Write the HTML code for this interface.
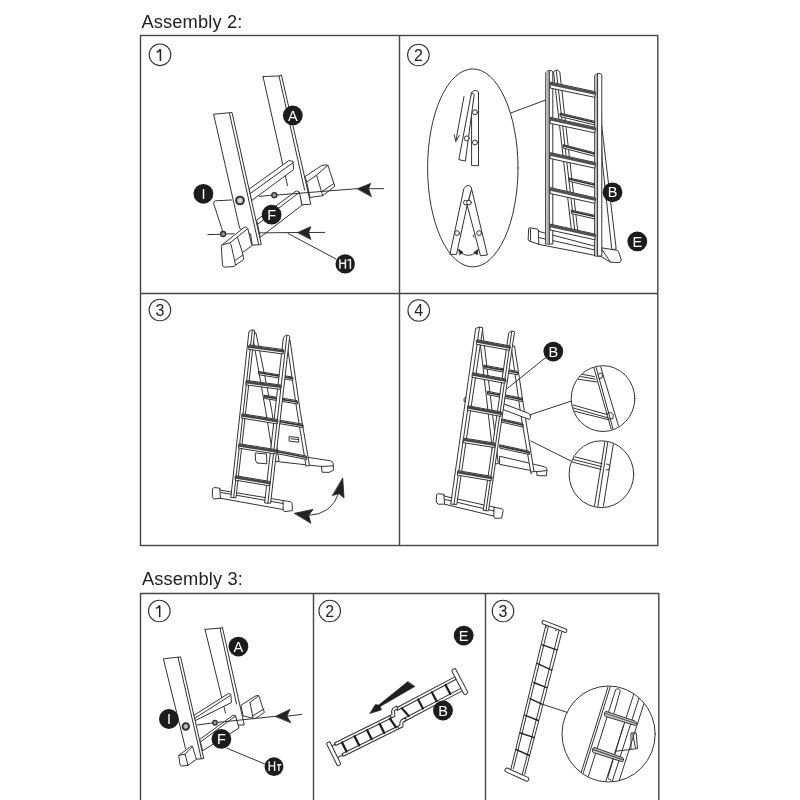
<!DOCTYPE html>
<html><head><meta charset="utf-8"><style>
html,body{margin:0;padding:0;background:#fff;width:800px;height:800px;overflow:hidden}
svg{position:absolute;left:0;top:0;filter:grayscale(1)}
text{font-family:"Liberation Sans",sans-serif}
.fr{fill:none;stroke:#444;stroke-width:1.4}
.num{fill:none;stroke:#333;stroke-width:1.1}
.nt{font-size:16px;fill:#222;text-anchor:middle}
.bd{fill:#1c1c1c}
.bt{font-size:14.5px;fill:#fff;text-anchor:middle}
.ln{fill:none;stroke:#333;stroke-width:1;stroke-linejoin:round;stroke-linecap:round}
.lt{fill:#fff;stroke:#333;stroke-width:1;stroke-linejoin:round}
.rgf{fill:none;stroke:#333;stroke-width:4.2}
.rgb{fill:none;stroke:#333;stroke-width:3.2}
.rg{fill:none;stroke:#222;stroke-width:2.2;stroke-linecap:round}
</style></head><body>
<svg width="800" height="800" viewBox="0 0 800 800">
<!-- titles -->
<text x="141.5" y="28.4" style="font-size:18.3px;letter-spacing:0.12px;fill:#222">Assembly 2:</text>
<text x="142" y="585.4" style="font-size:18.3px;letter-spacing:0.12px;fill:#222">Assembly 3:</text>
<!-- frames -->
<rect class="fr" x="140.5" y="35.5" width="517.3" height="510"/>
<line class="fr" x1="399.5" y1="35.5" x2="399.5" y2="545.5"/>
<line class="fr" x1="140.5" y1="293.5" x2="657.8" y2="293.5"/>
<path class="fr" d="M140.5,801 V593.5 H658.8 V801"/>
<line class="fr" x1="313.5" y1="593.5" x2="313.5" y2="801"/>
<line class="fr" x1="485.5" y1="593.5" x2="485.5" y2="801"/>
<!-- step numbers -->
<g>
<circle class="num" cx="160" cy="54.8" r="10.8"/><path d="M160.4,61.099999999999994 V49.199999999999996 M160.4,49.199999999999996 Q159.2,51.4 156.7,52.199999999999996" style="fill:none;stroke:#222;stroke-width:1.5"/>
<circle class="num" cx="418.4" cy="55" r="10.8"/><text class="nt" x="418.4" y="60.8">2</text>
<circle class="num" cx="159.9" cy="310" r="10.8"/><text class="nt" x="159.9" y="315.8">3</text>
<circle class="num" cx="418.75" cy="310.5" r="10.8"/><text class="nt" x="418.75" y="316.3">4</text>
<circle class="num" cx="159.3" cy="611" r="10.8"/><path d="M159.70000000000002,617.3 V605.4 M159.70000000000002,605.4 Q158.5,607.6 156.0,608.4" style="fill:none;stroke:#222;stroke-width:1.5"/>
<circle class="num" cx="329.7" cy="611" r="10.8"/><text class="nt" x="329.7" y="616.8">2</text>
<circle class="num" cx="503" cy="611" r="10.8"/><text class="nt" x="503" y="616.8">3</text>
</g>
<!-- DRAWINGS -->
<g id="d1" class="ln">
<!-- right rail -->
<path d="M263,76.5 L279,76 L281.5,75.3 M263,76.5 L287.5,185.5 M279,76 L301.5,176 M281.5,75.3 L310.8,204.2 L302,204.8 L298.8,192.5 M301.5,176 L304.6,190"/>
<!-- upper rung -->
<path class="lt" d="M249.6,188.8 L288.8,160.6 L293,161.3 L293.6,169.6 L251.7,200.5 Z"/>
<path d="M251,193 L293,162.7"/>
<!-- right foot -->
<path class="lt" d="M305.4,176.3 L321.5,165.6 Q323.5,164.6 327.9,165.2 L334.8,186.3 L322.7,195.7 L310,197.5 L306.7,182 Z"/>
<path d="M306.7,182 L316.6,175.2 L327.9,165.2 M316.6,175.2 L322.7,195.7 M322.7,191 L333.7,183.6"/>
<!-- lower rung F -->
<path class="lt" d="M257,219.8 L296.4,190.9 L299.5,192.3 L301.9,205.3 L260.6,237 Z"/>
<path d="M258,224 L299.5,192.3"/>
<!-- upper arrow line -->
<path d="M259.3,196.4 L271.3,195.2 M276.9,195 L357,188.7 M368,188.7 L383.7,188.7"/>
<path d="M357.5,188.7 L370.6,183.5 L368.5,188.7 L371.2,196.3 Z" style="fill:#222;stroke:#222;stroke-width:0.8"/>
<!-- left rail -->
<path class="lt" d="M214,114.2 L232,112.5 L261.3,244.5 L252.3,245.2 L250.6,234 L240,228.5 Z"/>
<path d="M229.5,113.5 L258.5,244"/>
<!-- left foot -->
<path class="lt" d="M221.3,245.5 L244.4,227.2 Q246.5,226.3 247.8,228.6 L251.9,245.75 L242.5,252.6 L243.75,259.5 L235.6,265.1 Q234.8,266.6 232,266.7 L224.5,267.1 Q222.6,267 222.5,265 L221.3,247 Z"/>
<path d="M222.5,244.8 L229.3,243 Q231.2,243.2 231.9,248.3 L235.6,265.1 M229.8,243.1 L247.8,228.6 M237.5,237.3 L242.5,252.6 M235.6,260.1 L242.8,255.1"/>
<!-- lower arrow line -->
<path d="M207.9,234.6 L220.3,234.3 M225.9,234 L234,233.8 M259.6,232.9 L297.5,232.5 M309,232.5 L324.8,232.4"/>
<path d="M297.8,232.5 L310.8,226.7 L308.6,232.5 L310.8,239.2 Z" style="fill:#222;stroke:#222;stroke-width:0.8"/>
<!-- leader lines -->
<path d="M231.5,200 L215.5,200.8 Q213.2,201.2 213.8,204 L221.4,227.2 L222.6,231.2"/>
<path d="M288.1,233.5 L336,259"/>
<!-- bolts -->
<circle cx="240" cy="200.5" r="3.9" style="fill:#bbb;stroke:#2a2a2a;stroke-width:1.9"/>
<circle cx="240" cy="200.5" r="1.3" style="fill:#eee;stroke:none"/>
<circle cx="223.1" cy="234" r="2.5" style="fill:#999;stroke:#2a2a2a;stroke-width:1.3"/>
<circle cx="274.3" cy="195.2" r="2.5" style="fill:#999;stroke:#2a2a2a;stroke-width:1.3"/>
</g>
<g id="d2" class="ln">
<ellipse cx="472.8" cy="167.9" rx="45.2" ry="99" />
<path d="M510.8,113 L547.5,99.3"/>
<!-- ellipse top detail -->
<path class="lt" d="M471.6,165.2 L471.6,92.5 Q475,88.8 478.5,92 L478.5,165.2 Z"/>
<path class="lt" d="M471.8,93 L474.2,94.5 L465.4,161.1 L459.2,159.7 Z"/>
<circle cx="475" cy="112.3" r="2.5" class="lt"/>
<circle cx="466.8" cy="138.4" r="2.5" class="lt"/>
<circle cx="475" cy="142.5" r="2.5" class="lt"/>
<path d="M464,96.5 L455.8,141.2 M454.2,134.8 L455.8,141.2 L459.3,135.5"/>
<!-- ellipse bottom detail -->
<path class="lt" d="M467.5,206.3 L480.5,255.8 L487.4,255 L471.6,189 Z"/>
<path class="lt" d="M464,188.4 Q466,184.6 469.5,185.6 Q471.6,186.5 471.6,189 L467.5,203.5 L456.5,254.4 L450.3,254.4 Z"/>
<circle cx="465.8" cy="202.6" r="2.3" class="lt"/><circle cx="469" cy="202.6" r="2.3" class="lt"/>
<circle cx="457.1" cy="233.1" r="2.4" class="lt"/>
<circle cx="479.1" cy="233.1" r="2.4" class="lt"/>
<path d="M474,234.6 Q472,235.8 474,237.2"/>
<path d="M460.5,252.5 Q468.5,258.5 476.5,252.5"/>
<path d="M458.8,249.3 L463,252.3 L459.8,254.6 Z M478.2,249.6 L477.3,254.8 L474,252.6 Z" style="fill:#222;stroke:#222;stroke-width:0.6"/>
<!-- stabilizer foot -->
<path class="lt" d="M528.75,228.3 Q529,227.6 530,227.8 L537.6,229.1 Q538.2,229.4 538.3,230.2 L538.4,231.3 L600,247.6 L617.2,250.3 Q618.2,250.6 618.4,251.4 L621.3,260 L619.6,262.5 L610.5,262.2 L601,256.5 L540,244.6 L529,241 L528.4,240 Z"/>
<path d="M538.3,230.2 L538.8,244.6 M600.8,247.7 L610.5,262.2 M539,237.6 L602,251.5 M530.5,229 L530.6,240.5"/>
<!-- back ladder rails -->
<path class="lt" d="M553.8,71.5 Q556,69.5 558,70.2 L559.8,72 L577.7,230.5 L572,232 Z"/>
<path d="M556.3,71 L574.8,231.2"/>
<path class="lt" d="M600.8,118 L616.2,249 L611.8,249.6 L602.3,162 Z"/>
<!-- back rungs -->
<path class="lt" d="M560.5,113.25 L595.5,121.5 L595.5,125.1 L560.5,116.65 Z"/><path d="M560.5,114.45 L595.5,122.7" style="stroke-width:1.6"/><path class="lt" d="M563.5,144.75 L595.5,153 L595.5,156.6 L563.5,148.15 Z"/><path d="M563.5,145.95 L595.5,154.2" style="stroke-width:1.6"/><path class="lt" d="M569.5,178 L595.5,184 L595.5,187.6 L569.5,181.4 Z"/><path d="M569.5,179.2 L595.5,185.2" style="stroke-width:1.6"/><path class="lt" d="M571.75,210.25 L595.5,215.5 L595.5,219.1 L571.75,213.65 Z"/><path d="M571.75,211.45 L595.5,216.7" style="stroke-width:1.6"/>
<!-- front rails -->
<path class="lt" d="M546,72.5 Q549.2,68.6 552.8,71.5 L552.8,244 L546,244 Z"/>
<path d="M546.4,73.5 Q547.6,71.4 549.3,71 L549.3,243.6 L546.4,243.6 Z" style="fill:#b4b4b4;stroke:none"/>
<path d="M549.3,71 L549.3,244"/>
<path class="lt" d="M595,75.3 Q598.3,71.7 601.8,74.6 L601.8,256 L595,256 Z"/>
<path d="M595.4,76 Q596.4,74 597.6,73.6 L597.6,255.6 L595.4,255.6 Z" style="fill:#b4b4b4;stroke:none"/>
<path d="M597.6,73.6 L597.6,256"/>
<!-- front rungs -->
<path class="lt" d="M550.5,82.2 L595,91.7 L595,97.4 L550.5,88.1 Z"/>
<path d="M550.5,83.8 L595,93.3" style="stroke-width:2.8;stroke:#505050"/>
<path class="lt" d="M550.5,117.45 L595,127.2 L595,132.9 L550.5,123.35 Z"/>
<path d="M550.5,119.05 L595,128.8" style="stroke-width:2.8;stroke:#505050"/>
<path class="lt" d="M550.5,152.7 L595,162.5 L595,168.20000000000002 L550.5,158.6 Z"/>
<path d="M550.5,154.3 L595,164.10000000000002" style="stroke-width:2.8;stroke:#505050"/>
<path class="lt" d="M550.5,187.7 L595,197.7 L595,203.4 L550.5,193.6 Z"/>
<path d="M550.5,189.3 L595,199.3" style="stroke-width:2.8;stroke:#505050"/>
<path class="lt" d="M550.5,224.2 L595,234.1 L595,239.8 L550.5,230.1 Z"/>
<path d="M550.5,225.8 L595,235.70000000000002" style="stroke-width:2.8;stroke:#505050"/>

</g>
<g id="d3" class="ln">
<!-- back foot bar -->
<path class="lt" d="M276.3,452.5 L330.5,460.8 Q332.8,461.5 333.2,463.5 L333.4,470.3 L329,472.4 L322,472.2 L321.5,466.5 L276.3,461.5 Z"/>
<path d="M321.5,466.5 L333.3,465.8"/>
<!-- back ladder rails -->
<path class="lt" d="M252.5,333 L256,333 L271.5,409 L279,461 L274,462 L265.5,410 Z"/>
<path class="lt" d="M287,341 L290,340 L300,410 L309.5,465.6 L306,466 L297,411 Z"/>
<!-- back rungs -->
<path class="lt" d="M258.7,371.5 L292.5,377 L293,380.4 L259.3,374.8 Z"/>
<path class="lt" d="M264.4,395.2 L297,400.6 L297.5,404 L265,398.5 Z"/>
<path class="lt" d="M280,420.3 L302.5,424.1 L303,427.6 L280.5,423.8 Z"/>
<path class="lt" d="M277.2,450.4 L306.3,456 L306.8,459.5 L277.8,453.8 Z"/>
<path d="M259.3,372.8 L292.6,378.4 M264.8,396.6 L297.2,402 M280.2,421.8 L302.8,425.6 M277.5,451.8 L306.5,457.5" style="stroke-width:1.6"/>
<!-- brackets -->
<path class="lt" d="M289.4,436.6 L298.5,437.5 L298.8,442.2 L289.6,441.3 Z M291,438.8 L298.6,439.5"/>
<path class="lt" d="M255.6,453 L266.5,454 L266.9,463.8 L257,463 L255.8,461 Z"/>
<!-- front foot bar -->
<path class="lt" d="M212.6,488.5 Q213,487.5 215,487.6 L219.5,488.2 L220.5,490.2 L283,500.5 L290.5,501.7 Q292,502.2 292.2,503.5 L292.3,510.6 L284.5,511.6 L283,509.5 L221,498.4 L213.5,498.8 L212.5,497 Z"/>
<path d="M219.8,488.3 L220.4,498.5 M283,500.5 L283.2,509.6 M221,492.5 L283,503.5"/>
<!-- front rails -->
<path class="lt" d="M249.2,331.2 Q252,328.4 254.8,330.6 L236,497.8 L231.2,497.5 Z"/>
<path d="M252.3,330.5 L233.7,497.6"/>
<path class="lt" d="M283.7,337 Q286.7,333.7 289.7,336.2 L270.6,503.2 L265,503 Z"/>
<path d="M286.8,336 L267.9,503"/>
<!-- front rungs -->
<path class="lt" d="M249.5,345 L283.5,349.6 L283.1,354 L249,349.4 Z"/>
<path class="lt" d="M246.8,380.5 L280.7,385 L280.3,389.4 L246.3,384.9 Z"/>
<path class="lt" d="M242.6,413.8 L277.5,419.5 L277.1,423.9 L242.1,418.2 Z"/>
<path class="lt" d="M239.5,443.8 L275.3,449.5 L274.9,453.9 L239,448.2 Z"/>
<path class="lt" d="M236,475.8 L269.8,481.4 L269.4,485.8 L235.5,480.2 Z"/>
<path d="M249.3,346.6 L283.3,351.2 M246.6,382.1 L280.5,386.6 M242.4,415.4 L277.3,421.1 M239.3,445.4 L275.1,451.1 M235.8,477.4 L269.6,483" style="stroke-width:2.6;stroke:#464646"/>
<!-- curved double arrow -->
<path d="M308,515.5 Q332,514.5 338.8,493"/>
<path d="M294.6,513.3 L313,509.4 L308.6,515.5 L310.8,523 Z" style="fill:#222;stroke:#222;stroke-width:0.8"/>
<path d="M342.75,478.3 L344,498 L338.8,493.6 L332.7,495.4 Z" style="fill:#222;stroke:#222;stroke-width:0.8"/>
</g>
<g id="d4" class="ln">
<!-- back foot bar -->
<path class="lt" d="M499.9,456.3 L544.5,466.7 Q546.8,467.4 547,469.5 L546.4,475.8 L537,475.6 L536.8,471.7 L499.9,464.4 Z"/>
<path d="M530.8,465.4 L531,474 M536.8,471.7 L546.8,470.5"/>
<!-- back ladder rails -->
<path class="lt" d="M479,329 L482.5,330 L490.5,397 L498.3,463.6 L494,464 L486.5,398 Z"/>
<path class="lt" d="M511.5,346 L514.5,346 L524.2,410 L534,471.7 L530.7,472 L520.2,410.5 Z"/>
<!-- back rungs -->
<path class="lt" d="M484.2,365.2 L517.2,371.4 L517.6,374.8 L484.6,368.6 Z"/>
<path class="lt" d="M487.6,391.3 L522,398.2 L522.4,401.6 L488,394.7 Z"/>
<path class="lt" d="M501.4,418.8 L522.6,423.6 L523,427 L501.8,422.2 Z"/>
<path class="lt" d="M499.9,444.8 L529.1,451.2 L529.5,454.6 L500.3,448.2 Z"/>
<path d="M484.4,366.6 L517.4,372.8 M487.8,392.7 L522.2,399.6 M501.6,420.2 L522.8,425 M500.1,446.2 L529.3,452.6" style="stroke-width:1.6"/>
<!-- brace -->
<path class="lt" d="M502.8,403.5 L529,413.5 Q531,414.5 530.5,417 L529.5,419.5 L503,409.5 Z"/>
<path class="lt" d="M464.3,398.4 L467,396.5 L467,402 L464.5,401.5 Z"/>
<!-- front foot bar -->
<path class="lt" d="M436.7,494.5 Q437.2,493.5 439,493.7 L443.8,494.3 L444.6,496.2 L494,507.2 L501.8,508.8 Q503.2,509.3 503.2,510.5 L501.6,518.1 L495,518.4 L493.6,516 L444.6,504.2 L438.2,504.2 L436.5,502.5 Z"/>
<path d="M443.9,494.4 L444.5,504 M494,507.2 L493.8,516 M445,499.5 L494,511"/>
<!-- front rails -->
<path class="lt" d="M476,328.2 Q479.3,325.8 482.8,327.8 L456.8,504.4 L451.1,504.2 Z"/>
<path d="M479.5,327.4 L454,504.3"/>
<path class="lt" d="M509,332.6 Q511.8,329.6 514.5,331.8 L488.5,510.8 L483.6,510.6 Z"/>
<path d="M511.8,331.2 L486,510.7"/>
<!-- front rungs -->
<path class="lt" d="M477.3,339.8 L510,345.9 L509.4,350.3 L476.7,344.3 Z"/>
<path class="lt" d="M473,372.8 L505.5,378.9 L504.9,383.3 L472.4,377.3 Z"/>
<path class="lt" d="M468.4,405.8 L501.4,412 L500.8,416.4 L467.8,410.3 Z"/>
<path class="lt" d="M464.1,438.2 L495,443.1 L494.4,447.5 L463.5,442.7 Z"/>
<path class="lt" d="M458.4,470.7 L491.7,476.4 L491.1,480.8 L457.8,475.2 Z"/>
<path d="M477.1,341.4 L509.8,347.5 M472.8,374.4 L505.3,380.5 M468.2,407.4 L501.2,413.6 M463.9,439.8 L494.8,444.7 M458.2,472.3 L491.5,478" style="stroke-width:2.6;stroke:#464646"/>
<!-- leader lines -->
<path d="M545.4,357.8 L506.9,388.8 M571.25,401.1 L529.6,414.9 M571.9,461.5 L530.75,440.9"/>
<!-- detail circles -->
<ellipse cx="603" cy="398.6" rx="31.8" ry="32.9" style="fill:#fff"/>
<ellipse cx="601.4" cy="474.2" rx="32.3" ry="33.4" style="fill:#fff"/>
<clipPath id="cc1"><ellipse cx="603" cy="398.6" rx="31.3" ry="32.4"/></clipPath>
<clipPath id="cc2"><ellipse cx="601.4" cy="474.2" rx="31.8" ry="32.9"/></clipPath>
<g clip-path="url(#cc1)">
<path d="M593.75,367.4 L611.2,429.25 M596,366.8 L612.9,428.7 M600.5,366.25 L618.5,425.9"/>
<path d="M570,372 L594.5,376.6 M570,374.5 L595.3,379.2 M570,378 L597.1,382"/>
<path d="M573,405 L607.25,414.6 M573,407.9 L608.4,418 M574.6,411.25 L608.4,419.7"/>
<path d="M597.5,375 Q600,371.5 602.5,374.5 L602,378 L598.8,378.5" />
<path d="M607.5,413.5 Q611,411 613.2,414.5 L613,418.5 L609.5,419" />
</g>
<g clip-path="url(#cc2)">
<path d="M605,441.25 L594.4,506.5 M607.9,441.25 L597.75,507 M613.5,443 L603.4,506"/>
<path d="M573,456.4 L602.25,463.75 M572.4,459.25 L601.7,466.6 M571.9,462 L601.1,469.4"/>
<path d="M606.5,464 Q609.5,463.5 609.7,466.5 L609,469.5 L606,470" />
</g>
</g>
<g id="e1" class="ln">
<!-- right rail -->
<path d="M205,629.4 L220,628.1 L222.5,627.75 M205,629.4 L225.5,713 M220,628.1 L233.5,690 M222.5,627.75 L244.25,725 L237.5,725 L235.5,716"/>
<path d="M233.5,690 L236.5,704"/>
<!-- upper rung -->
<path class="lt" d="M194,715.25 L228.5,693.5 L230.75,694.25 L231.5,702.5 L195.5,720.5 Z"/>
<path d="M194.75,718.25 L230,695.75"/>
<!-- right foot -->
<path class="lt" d="M241.25,705 L256.25,695.6 Q258,695.2 258.75,695.6 L264.4,712.5 L255,718.75 L243.5,716 Z"/>
<path d="M250,702.5 L253.1,718.1 M250,702.5 L258.75,695.6 M252.5,716 L264,709"/>
<!-- lower rung F -->
<path class="lt" d="M200,739.25 L233,715.25 L235.5,716 L239,728 L203,750.5 Z"/>
<path d="M200.75,741.75 L235.5,716"/>
<!-- arrow line -->
<path d="M197,725 L213,722.9 M217.2,722.5 L275.6,716.3 M287,716.2 L301.9,714.4"/>
<path d="M275.6,716.3 L290,709.4 L286.9,716.2 L290.6,722.5 Z" style="fill:#222;stroke:#222;stroke-width:0.8"/>
<!-- left rail -->
<path class="lt" d="M163.75,658.75 L180.6,656.9 L203.75,758.5 L196.4,759.25 L185.75,748.6 Z"/>
<path d="M178.1,657.5 L201.3,758.8"/>
<!-- left foot -->
<path class="lt" d="M179,755.3 L190.8,746.3 Q191.8,745.8 192.5,746.6 L196.4,759.25 L188,765.4 L181.25,766 Q180.2,765.6 180,764.5 Z"/>
<path d="M179,755.3 L185.2,754.2 L188,765.4 M185.2,754.2 L192.5,746.6"/>
<!-- leader -->
<path d="M227,748.25 L266,764.5"/>
<!-- bolts -->
<circle cx="185.75" cy="726.5" r="3.3" style="fill:#aaa;stroke:#2a2a2a;stroke-width:1.7"/>
<circle cx="185.75" cy="726.5" r="1" style="fill:#ddd;stroke:none"/>
<circle cx="215" cy="722.75" r="2.3" style="fill:#999;stroke:#2a2a2a;stroke-width:1.2"/>
</g>
<g id="e2" class="ln">
<!-- arrow wedge -->
<path d="M407.6,681.75 L378.75,705 L375.4,704.6 L369.75,713.6 L381.4,709.9 L380.25,706.5 L414.75,686.6 Z" style="fill:#1e1e1e;stroke:#1e1e1e;stroke-width:0.6;stroke-linejoin:round"/>
<!-- right half -->
<g transform="translate(399.6,706.1) rotate(-27.9)">
<path class="lt" d="M-4,0 L62.5,0 L62.5,2.8 L-4,2.8 Z"/>
<path class="lt" d="M-3,13 L64,13 L64,15.8 L-3,15.8 Z"/>
<path d="M1,2.8 L3.5,13 M19.5,2.8 L19.5,13 M35,2.8 L35,13 M50.5,2.8 L50.5,13" style="stroke:#1e1e1e;stroke-width:2.2"/>
<path class="lt" d="M62.5,-6 Q62.5,-7.5 64,-7.5 L65.5,-7.5 Q66.8,-7.5 66.8,-6 L66.8,19 Q66.8,20.5 65.3,20.5 L64,20.5 Q62.5,20.5 62.5,19 Z"/>
</g>
<!-- left half -->
<g transform="translate(334.5,743) rotate(-26.3)">
<path class="lt" d="M0,0 L62,0 L62,2.8 L0,2.8 Z"/>
<path class="lt" d="M2,13 L64,13 L64,15.8 L2,15.8 Z"/>
<path d="M7,2.8 L7,13 M21,2.8 L21,13 M35,2.8 L35,13 M49,2.8 L49,13 M60.5,2.8 L62,13" style="stroke:#1e1e1e;stroke-width:2.3"/>
<path class="lt" d="M62,0 L64,0 Q65,-4 67.5,-5.2 L72,-5.6 L72,-2.8 L68,-2.6 Q66.8,1 66,2.8 L62,2.8 Z"/>
<path class="lt" d="M64,13 L66.5,13 Q67.5,9.8 70,8.9 L74.5,8.7 L74.5,11.5 L70.5,11.7 Q69.2,14 68.6,15.8 L64,15.8 Z"/>
<path class="lt" d="M-7.5,-2 Q-7.5,-3.5 -6,-3.5 L-5,-3.5 Q-3.6,-3.5 -3.6,-2 L-3.6,20.5 Q-3.6,22 -5,22 L-6,22 Q-7.5,22 -7.5,20.5 Z"/>
<path d="M-3.6,1.4 L0,1.4 M-3.6,14.4 L2,14.4"/>
</g>
</g>
<g id="e3" class="ln">
<path d="M541.3,703.9 L566.9,712.3"/>
<!-- ladder rails -->
<path d="M545.6,626.25 L511,768.6 M548.4,626.25 L513.4,768.6 M559,630.75 L522.3,774.5 M561.9,631.9 L524.7,774.5"/>
<!-- rungs -->
<path d="M542.2,644.8 L556.8,649.9 M537.1,663.4 L551.75,670.1 M533.75,682.5 L546.7,687.6 M530,698.6 L541.3,703.9 M524.7,715.2 L538.3,720.5 M520.5,733 L534.2,737.7 M516.4,749.6 L529.4,755.5" style="stroke:#222;stroke-width:1.4"/>
<!-- top cap -->
<g transform="translate(542.75,620) rotate(21.2)">
<path class="lt" d="M0,1.7 Q0,0 1.7,0 L24.8,0 Q26.5,0 26.5,1.7 L26.5,1.9 Q26.5,3.6 24.8,3.6 L1.7,3.6 Q0,3.6 0,1.9 Z"/>
<path d="M4,3.6 L6,5.5 M17,3.6 L15.5,5.5" style="stroke-width:0.8"/>
</g>
<!-- bottom cap -->
<g transform="translate(506,767.5) rotate(24.5)">
<path class="lt" d="M0,1.8 Q0,0 1.8,0 L23.9,0 Q25.7,0 25.7,1.8 L25.7,2.2 Q25.7,4 23.9,4 L1.8,4 Q0,4 0,2.2 Z"/>
</g>
<!-- big circle -->
<ellipse cx="608.6" cy="734" rx="46.6" ry="48"/>
<clipPath id="cc3"><ellipse cx="608.6" cy="734" rx="46.1" ry="47.5"/></clipPath>
<g clip-path="url(#cc3)">
<path d="M610.2,680 L575.7,790 M612.4,680 L577.9,790 M615.5,690 L584.1,790 M638.3,680 L603.0,790 M644.8,680 L609.5,790 M651.5,680 L616.2,790"/>
<path d="M615.5,690 Q618,687.3 620.4,690.4 L614,713.2"/>
<path d="M623.6,725 L607.8,777.5 Q608.5,780.5 611,780"/>
<path class="lt" d="M606.5,711.6 L635.6,721.3 Q637.2,722.5 636.3,724.6 L635.5,725.5 L605.2,716.3 Q603.8,715 604.6,712.6 Q605.3,711.4 606.5,711.6 Z" style="fill:#cfcfcf"/>
<path d="M605.5,713.5 L635.4,723.2" style="stroke-width:1.2;stroke:#555"/>
<path class="lt" d="M594.5,747.6 L622.6,757.6 Q624.2,758.8 623.3,760.9 L622.5,761.8 L593.3,752.6 Q591.9,751.3 592.7,748.8 Q593.4,747.5 594.5,747.6 Z" style="fill:#cfcfcf"/>
<path d="M593.5,749.6 L622.4,759.6" style="stroke-width:1.2;stroke:#555"/>
<path d="M615.3,751.3 L637.5,748.6 L636.2,732.9 L631,732.9 L631,748.6 M632.7,733.8 L635.4,747.8"/>
</g>
</g>
<!-- badges -->
<g id="badges">
<circle class="bd" cx="292.8" cy="115.4" r="9.9"/><text class="bt" x="292.8" y="120.5">A</text>
<circle class="bd" cx="203.4" cy="193.8" r="9.9"/><text class="bt" x="203.4" y="198.9">I</text>
<circle class="bd" cx="271.6" cy="214.7" r="9.9"/><text class="bt" x="271.6" y="219.8">F</text>
<circle class="bd" cx="612.5" cy="192.3" r="9.9"/><text class="bt" x="612.5" y="197.4">B</text>
<circle class="bd" cx="637.3" cy="241.4" r="9.9"/><text class="bt" x="637.3" y="246.5">E</text>
<circle class="bd" cx="553.3" cy="351.6" r="9.9"/><text class="bt" x="553.3" y="356.7">B</text>
<circle class="bd" cx="238.4" cy="646.6" r="9.9"/><text class="bt" x="238.4" y="651.7">A</text>
<circle class="bd" cx="168.9" cy="719" r="9.9"/><text class="bt" x="168.9" y="724.1">I</text>
<circle class="bd" cx="221.4" cy="738.9" r="9.9"/><text class="bt" x="221.4" y="744.0">F</text>
<circle class="bd" cx="463.7" cy="635.6" r="9.9"/><text class="bt" x="463.7" y="640.7">E</text>
<circle class="bd" cx="443" cy="710.5" r="9.9"/><text class="bt" x="443" y="715.6">B</text>
<circle class="bd" cx="345.2" cy="263.9" r="9.7"/>
<path d="M339.9,259.2 V268.8 M345.4,259.2 V268.8 M339.9,263.3 H345.4 M350.4,259.2 V268.8 M347.4,260.4 L350.4,259.4" style="fill:none;stroke:#f4f4f4;stroke-width:1.5"/>
<circle class="bd" cx="274" cy="766.7" r="9.4"/>
<path d="M269.2,761.3 V770.9 M274.6,761.3 V770.9 M269.2,765.9 H274.6 M277.2,764.8 H281.4 M278.9,764.8 V770.9" style="fill:none;stroke:#f4f4f4;stroke-width:1.4"/>
</g>
</svg>
</body></html>
